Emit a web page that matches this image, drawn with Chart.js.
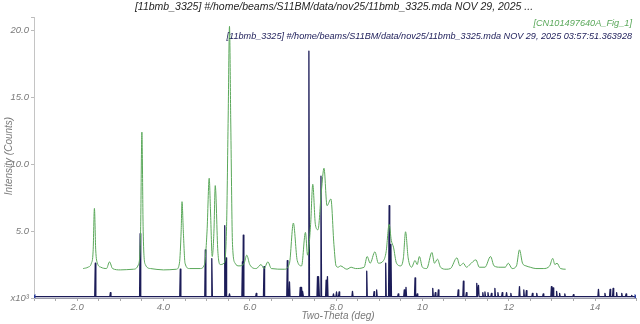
<!DOCTYPE html>
<html>
<head>
<meta charset="utf-8">
<script src="https://cdn.jsdelivr.net/npm/chart.js@4.4.1/dist/chart.umd.min.js"></script>
<style>
html,body{margin:0;padding:0;background:#fff;}
#wrap{position:relative;width:640px;height:324px;}
</style>
</head>
<body>
<div id="wrap"><canvas id="c" width="640" height="324"></canvas></div>
<script>
// ---- Data (intensity in units of 10^3 counts) ----
const greenTheta = [2.14,2.25,2.33,2.37,2.40,2.43,2.47,2.55,2.68,2.75,2.82,3.00,3.30,3.42,3.47,3.50,3.53,3.58,3.70,4.00,4.30,4.37,4.41,4.43,4.46,4.50,4.60,4.85,4.95,5.01,5.06,5.09,5.13,5.17,5.20,5.26,5.32,5.40,5.46,5.50,5.53,5.56,5.60,5.66,5.75,5.87,5.93,6.00,6.15,6.26,6.33,6.42,6.50,6.80,6.92,7.01,7.10,7.20,7.29,7.34,7.41,7.46,7.52,7.58,7.66,7.72,7.79,7.88,7.95,8.00,8.05,8.10,8.25,8.35,8.45,8.65,8.72,8.79,8.90,8.98,9.10,9.16,9.23,9.28,9.33,9.40,9.50,9.56,9.61,9.67,9.75,9.83,9.88,9.93,10.00,10.10,10.22,10.28,10.35,10.42,10.55,10.65,10.80,10.87,10.95,11.02,11.10,11.24,11.32,11.45,11.58,11.66,11.80,11.92,11.99,12.08,12.18,12.25,12.32,12.40,12.50,12.63,12.80,12.95,13.02,13.07,13.12,13.20,13.32];
const greenCounts = [2.2,2.3,2.6,3.5,6.7,3.6,2.6,2.3,2.2,2.7,2.2,2.1,2.15,2.5,5.0,12.4,5.0,2.5,2.2,2.1,2.15,2.6,5.0,7.2,5.0,2.6,2.2,2.2,2.5,5.0,8.95,6.5,3.1,5.0,8.4,3.5,2.5,2.6,5.0,13.6,20.3,13.0,4.0,2.6,2.4,2.6,3.2,2.5,2.2,2.5,2.2,2.7,2.2,2.15,2.6,5.6,2.8,2.4,4.9,3.2,5.5,8.5,5.5,5.1,8.0,9.7,6.9,7.4,4.0,2.4,2.3,2.4,2.15,2.3,2.2,2.3,3.1,2.6,3.45,2.6,2.8,3.45,5.5,4.3,3.8,2.6,2.4,3.0,4.95,3.0,2.3,2.8,2.5,3.1,2.3,2.2,3.4,2.6,2.9,2.3,2.15,2.2,3.0,2.4,2.6,2.3,2.5,2.85,2.3,2.3,3.1,2.4,2.3,2.3,2.6,2.2,2.4,3.6,2.6,2.4,2.3,2.2,2.2,2.4,2.96,2.5,2.6,2.2,2.15];

const navyStart = 1.0;
const navyEnd = 14.95;
const navyBase = 0.1;
const navyPeakTheta = [2.42,2.77,3.46,4.39,4.97,5.12,5.42,5.45,5.53,5.83,5.85,6.15,6.33,6.87,6.92,7.17,7.20,7.23,7.37,7.57,7.60,7.65,7.77,7.80,7.94,8.01,8.07,8.38,8.71,8.88,8.94,9.15,9.23,9.27,9.44,9.58,9.62,9.83,9.88,10.24,10.30,10.37,10.83,10.95,11.02,11.26,11.30,11.40,11.45,11.52,11.60,11.68,11.75,11.85,11.95,12.05,12.25,12.35,12.41,12.55,12.65,12.80,12.99,13.03,13.11,13.18,13.30,13.50,14.08,14.23,14.35,14.42,14.50,14.62,14.72,14.85];
const navyPeakCounts = [2.6,0.4,4.8,2.15,3.6,2.95,5.4,3.0,0.3,2.7,4.7,0.35,2.35,2.8,1.2,0.8,0.8,0.5,18.45,1.6,1.6,9.1,1.34,1.6,0.3,0.45,0.45,0.5,2.0,0.47,0.6,2.6,6.9,4.0,0.3,0.6,0.8,1.5,0.3,0.72,0.4,0.6,0.6,1.25,0.4,1.1,0.95,0.4,0.45,0.4,0.35,0.72,0.4,0.4,0.4,0.35,0.85,0.6,0.55,0.35,0.35,0.3,0.85,0.75,0.5,0.35,0.3,0.25,0.65,0.35,0.65,0.72,0.4,0.35,0.3,0.2];

const yTickValues = [0,5,10,15,20];
const xTickLabelValues = [2,4,6,8,10,12,14];

const titleText = '[11bmb_3325] #/home/beams/S11BM/data/nov25/11bmb_3325.mda NOV 29, 2025 ...';
const legendGreen = '[CN101497640A_Fig_1]';
const legendNavy = '[11bmb_3325] #/home/beams/S11BM/data/nov25/11bmb_3325.mda NOV 29, 2025 03:57:51.363928';
const xTitle = 'Two-Theta (deg)';
const yTitle = 'Intensity (Counts)';

// ---- build point lists ----
const greenPts = greenTheta.map((t,i)=>({x:t,y:greenCounts[i]}));
const navyPts = [{x:navyStart,y:navyBase}];
const half = 0.013;
navyPeakTheta.forEach((t,i)=>{
  navyPts.push({x:t-half,y:navyBase});
  navyPts.push({x:t,y:navyPeakCounts[i]});
  navyPts.push({x:t+half,y:navyBase});
});
navyPts.push({x:navyEnd,y:navyBase});

const GREEN = '#5aa85a';
const NAVY = '#1c1c58';
const GRAYTXT = '#7a7a7a';
const FONT = '"Liberation Sans", Arial, sans-serif';

const textPlugin = {
  id:'texts',
  afterDraw(chart){
    const ctx = chart.ctx;
    ctx.save();
    ctx.textBaseline = 'middle';
    // title
    ctx.fillStyle = '#262626';
    ctx.font = 'italic 10.5px ' + FONT;
    ctx.textAlign = 'center';
    ctx.fillText(titleText, 334, 7);
    // legend
    ctx.textAlign = 'right';
    ctx.font = 'italic 9.2px ' + FONT;
    ctx.fillStyle = GREEN;
    ctx.fillText(legendGreen, 632, 23);
    ctx.font = 'italic 9.1px ' + FONT;
    ctx.fillStyle = NAVY;
    ctx.fillText(legendNavy, 632, 36);
    // axis titles
    ctx.fillStyle = GRAYTXT;
    ctx.font = 'italic 10px ' + FONT;
    ctx.textAlign = 'center';
    ctx.fillText(xTitle, 338, 316);
    ctx.translate(9, 156);
    ctx.rotate(-Math.PI/2);
    ctx.fillText(yTitle, 0, 0);
    ctx.restore();
  }
};

new Chart(document.getElementById('c'), {
  type:'scatter',
  data:{
    datasets:[
      {data:greenPts, showLine:true, borderColor:GREEN, borderWidth:1, pointRadius:0, borderJoinStyle:'round', cubicInterpolationMode:'monotone', tension:0.4},
      {data:navyPts, showLine:true, borderColor:NAVY, borderWidth:1.3, borderJoinStyle:'round', tension:0,
       pointRadius:(c)=> (c.dataIndex===0 || c.dataIndex===navyPts.length-1) ? 3 : 0,
       pointStyle:'triangle',
       rotation:(c)=> c.dataIndex===0 ? -90 : 90,
       pointBackgroundColor:'#2b3fa0', pointBorderColor:'#2b3fa0', pointBorderWidth:0}
    ]
  },
  options:{
    responsive:false, animation:false,
    layout:{padding:{top:17,right:4,left:0,bottom:0}},
    plugins:{legend:{display:false}, title:{display:false}, tooltip:{enabled:false}},
    scales:{
      x:{
        type:'linear', min:1.0, max:14.95,
        grid:{drawOnChartArea:false, drawTicks:true, tickLength:3, color:'#aaa'},
        border:{display:true, color:'#9a9aa8', width:1},
        ticks:{stepSize:0.5, autoSkip:false, maxRotation:0, padding:1, color:GRAYTXT,
          font:{family:FONT, size:9.5, style:'italic'},
          callback:(v)=> xTickLabelValues.includes(v) ? (v<10 ? v.toFixed(1) : v.toFixed(0)) : ''},
        afterFit:(s)=>{s.height = 26;}
      },
      y:{
        type:'linear', min:0, max:21,
        grid:{drawOnChartArea:false, drawTicks:true, tickLength:3, color:'#bbb'},
        border:{display:true, color:'#c4c4c4', width:1},
        ticks:{stepSize:5, padding:2, color:GRAYTXT,
          font:{family:FONT, size:9.5, style:'italic'},
          callback:(v)=> v===0 ? 'x10³' : (yTickValues.includes(v) ? v.toFixed(1) : '')},
        afterFit:(s)=>{s.width = 34;}
      }
    }
  },
  plugins:[textPlugin]
});
</script>
</body>
</html>
